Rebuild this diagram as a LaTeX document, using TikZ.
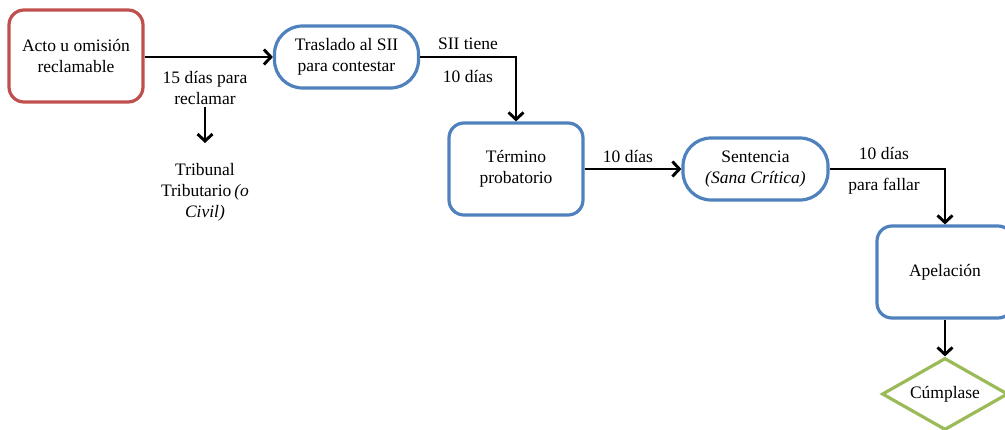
\documentclass[tikz,border=0pt]{standalone}
\usepackage{fontspec}
\setmainfont{Liberation Serif}
\usetikzlibrary{arrows.meta,shapes.geometric}
\definecolor{boxred}{RGB}{192,80,77}
\definecolor{boxblue}{RGB}{79,129,189}
\definecolor{boxgreen}{RGB}{155,187,89}
\begin{document}
\begin{tikzpicture}[x=1pt,y=-1pt,
  every node/.style={font=\fontsize{17.5}{21}\selectfont, align=center, inner sep=0pt},
  sqbox/.style={draw, line width=3.2pt, rounded corners=15pt, minimum width=134pt, minimum height=92pt},
  pillbox/.style={draw=boxblue, line width=3.2pt, rounded corners=28pt, minimum height=62pt},
  flow/.style={line width=2.9pt, -{Straight Barb[length=7pt,width=15pt,line width=2.9pt]}},
  lbl/.style={}]
\useasboundingbox (0,0) rectangle (1005,429);
\clip (0,0) rectangle (1005,429);
\node[sqbox, draw=boxred] (acto) at (76,56) {Acto u omisión\\reclamable};
\node[pillbox, minimum width=144pt] (tras) at (346.5,57) {Traslado al SII\\para contestar};
\node[sqbox, draw=boxblue] (term) at (516,169) {Término\\probatorio};
\node[pillbox, minimum width=145pt] (sent) at (755.5,169) {Sentencia\\\textit{(Sana Crítica)}};
\node[sqbox, draw=boxblue, minimum width=136pt] (apel) at (945,272) {Apelación};
\node[diamond, draw=boxgreen, line width=3.2pt, aspect=1.75, minimum width=126pt, minimum height=72pt] (cump) at (945,394) {Cúmplase};

\node (l15) at (205,88) {15 días para\\reclamar};
\node (trib) at (205,192) {Tribunal\\Tributario\,\textit{(o}\\\textit{Civil)}};
\coordinate (d1) at (205,107);
\coordinate (d2) at (205,143);

\node (sii) at (468,44) {SII tiene};
\node (sii10) at (468,76) {10 días};
\node (t10) at (628,156) {10 días};
\node (s10) at (884,153) {10 días};
\node (sfal) at (884,186) {para fallar};

\draw[flow] (acto.east |- tras.west) -- (tras.west);
\draw[flow] (d1) -- (d2);
\draw[flow] (tras.east) -| (term.north);
\draw[flow] (term.east |- sent.west) -- (sent.west);
\draw[flow] (sent.east) -| (apel.north);
\draw[flow] (apel.south) -- (cump.north);
\end{tikzpicture}
\end{document}
